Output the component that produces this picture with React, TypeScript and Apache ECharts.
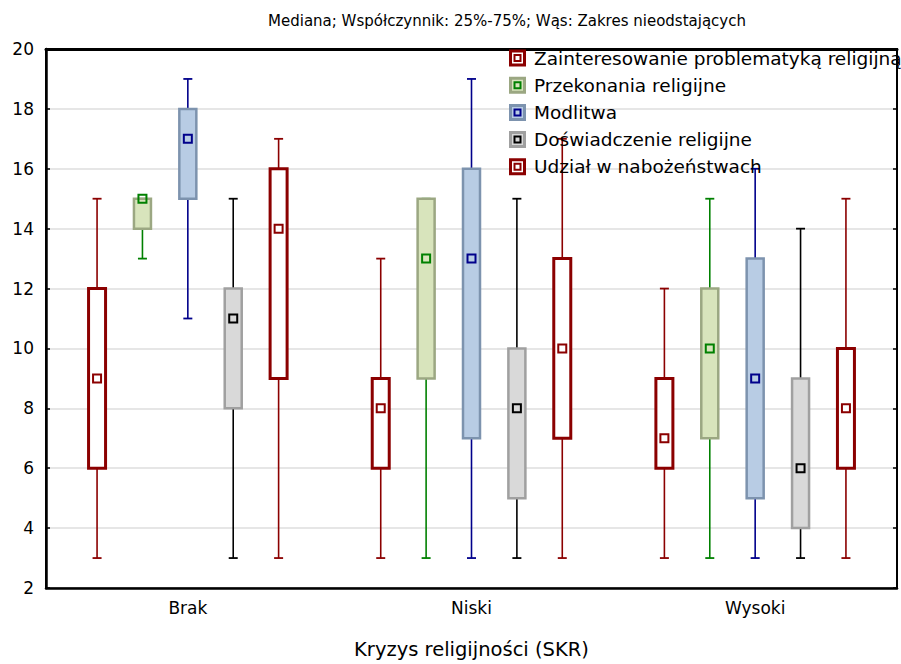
import React, { useEffect, useRef } from "react";
import * as echarts from "echarts";

// ---- data ----
const categories = ["Brak", "Niski", "Wysoki"];
const seriesNames = [
  "Zainteresowanie problematyką religijną",
  "Przekonania religijne",
  "Modlitwa",
  "Doświadczenie religijne",
  "Udział w nabożeństwach",
];
// [min whisker, q1, median, q3, max whisker] per category
const zainteresowanie = [
  [3, 6, 9, 12, 15],
  [3, 6, 8, 9, 13],
  [3, 6, 7, 9, 12],
];
const przekonania = [
  [13, 14, 15, 15, 15],
  [3, 9, 13, 15, 15],
  [3, 7, 10, 12, 15],
];
const modlitwa = [
  [11, 15, 17, 18, 19],
  [3, 7, 13, 16, 19],
  [3, 5, 9, 13, 16],
];
const doswiadczenie = [
  [3, 8, 11, 12, 15],
  [3, 5, 8, 10, 15],
  [3, 4, 6, 9, 14],
];
const udzial = [
  [3, 9, 14, 16, 17],
  [3, 7, 10, 13, 17],
  [3, 6, 8, 10, 15],
];
const allSeries = [zainteresowanie, przekonania, modlitwa, doswiadczenie, udzial];

const titleText = "Mediana; Współczynnik: 25%-75%; Wąs: Zakres nieodstających";
const xAxisName = "Kryzys religijności (SKR)";
const yTicks = { min: 2, max: 20, interval: 2 };

// ---- styles ----
const styles = [
  { boxFill: "#ffffff", boxStroke: "#8b0000", boxWidth: 3, whisker: "#8b0000", marker: "#8b0000" },
  { boxFill: "#d8e4bc", boxStroke: "#9ba782", boxWidth: 2.5, whisker: "#008000", marker: "#008000" },
  { boxFill: "#b8cce4", boxStroke: "#7d93ae", boxWidth: 2.5, whisker: "#00008b", marker: "#00008b" },
  { boxFill: "#d9d9d9", boxStroke: "#a0a0a0", boxWidth: 2.5, whisker: "#000000", marker: "#000000" },
  { boxFill: "#ffffff", boxStroke: "#8b0000", boxWidth: 3, whisker: "#8b0000", marker: "#8b0000" },
];

const FONT = "DejaVu Sans";

export default function App() {
  const ref = useRef<HTMLDivElement>(null);

  useEffect(() => {
    if (!ref.current) return;
    const chart = echarts.init(ref.current, null, { renderer: "svg" });

    const series = allSeries.map((arr, si) => ({
      type: "custom",
      name: seriesNames[si],
      data: arr.map((d, ci) => [ci, ...d]),
      encode: { x: 0, y: [1, 2, 3, 4, 5] },
      renderItem: (params: any, api: any) => {
        const ci = api.value(0);
        const pLow = api.coord([ci, api.value(1)]);
        const pQ1 = api.coord([ci, api.value(2)]);
        const pMed = api.coord([ci, api.value(3)]);
        const pQ3 = api.coord([ci, api.value(4)]);
        const pHigh = api.coord([ci, api.value(5)]);
        const band = api.size([1, 0])[0];
        const cx = pLow[0] + (params.seriesIndex - 2) * band * 0.16;
        const st = styles[params.seriesIndex];
        const bw = 17;
        const cap = 9;
        const m = 8;
        const children: any[] = [
          {
            type: "line",
            shape: { x1: cx, y1: pLow[1], x2: cx, y2: pQ1[1] },
            style: { stroke: st.whisker, lineWidth: 1.6 },
          },
          {
            type: "line",
            shape: { x1: cx, y1: pQ3[1], x2: cx, y2: pHigh[1] },
            style: { stroke: st.whisker, lineWidth: 1.6 },
          },
          {
            type: "line",
            shape: { x1: cx - cap / 2, y1: pLow[1], x2: cx + cap / 2, y2: pLow[1] },
            style: { stroke: st.whisker, lineWidth: 1.8 },
          },
          {
            type: "line",
            shape: { x1: cx - cap / 2, y1: pHigh[1], x2: cx + cap / 2, y2: pHigh[1] },
            style: { stroke: st.whisker, lineWidth: 1.8 },
          },
          {
            type: "rect",
            shape: { x: cx - bw / 2, y: pQ3[1], width: bw, height: pQ1[1] - pQ3[1] },
            style: { fill: st.boxFill, stroke: st.boxStroke, lineWidth: st.boxWidth },
          },
          {
            type: "rect",
            shape: { x: cx - m / 2, y: pMed[1] - m / 2, width: m, height: m },
            style: { fill: "none", stroke: st.marker, lineWidth: 2 },
          },
        ];
        return { type: "group", children };
      },
    }));

    // legend as graphics
    const legendX = 509;
    const legendY0 = 58;
    const legendStep = 27.2;
    const legendGraphics: any[] = [];
    seriesNames.forEach((name, i) => {
      const st = styles[i];
      const cy = legendY0 + i * legendStep;
      legendGraphics.push({
        type: "rect",
        shape: { x: legendX + 1.5, y: cy - 7, width: 14, height: 14 },
        style: { fill: st.boxFill, stroke: st.boxStroke, lineWidth: 3 },
        z: 100,
      });
      legendGraphics.push({
        type: "rect",
        shape: { x: legendX + 5.5, y: cy - 3, width: 6, height: 6 },
        style: { fill: "none", stroke: st.marker, lineWidth: 2 },
        z: 101,
      });
      legendGraphics.push({
        type: "text",
        x: legendX + 25,
        y: cy,
        style: {
          text: name,
          fill: "#000",
          font: `18.5px "${FONT}"`,
          verticalAlign: "middle",
          align: "left",
        },
        z: 101,
      });
    });

    chart.setOption({
      animation: false,
      backgroundColor: "#ffffff",
      grid: {
        left: 46,
        right: 4,
        top: 49,
        bottom: 72,
        show: true,
        borderColor: "#000",
        borderWidth: 2,
      },
      graphic: [
        {
          type: "text",
          x: 507,
          y: 21,
          style: {
            text: titleText,
            fill: "#000",
            font: `15px "${FONT}"`,
            align: "center",
            verticalAlign: "middle",
          },
        },
        ...legendGraphics,
      ],
      xAxis: [
        {
          type: "category",
          data: categories,
          position: "bottom",
          boundaryGap: true,
          axisLine: { lineStyle: { color: "#000", width: 2.5 } },
          axisTick: { alignWithLabel: true, inside: true, length: 4, lineStyle: { color: "#000", width: 1.5 } },
          axisLabel: { color: "#000", fontSize: 17, fontFamily: FONT, margin: 11 },
          splitLine: { show: false },
          name: xAxisName,
          nameLocation: "middle",
          nameGap: 51,
          nameTextStyle: { color: "#000", fontSize: 19.5, fontFamily: FONT },
        },
        {
          type: "category",
          data: categories,
          position: "top",
          axisLine: { lineStyle: { color: "#000", width: 3 } },
          axisTick: { show: false },
          axisLabel: { show: false },
        },
      ],
      yAxis: [
        {
          type: "value",
          min: yTicks.min,
          max: yTicks.max,
          interval: yTicks.interval,
          position: "left",
          axisLine: { show: true, lineStyle: { color: "#000", width: 2.5 } },
          axisTick: { show: true, inside: true, length: 4, lineStyle: { color: "#000", width: 1.5 } },
          axisLabel: { color: "#000", fontSize: 17, fontFamily: FONT, margin: 12 },
          splitLine: { show: true, lineStyle: { color: "#dedede", width: 1.5 } },
        },
        {
          type: "value",
          min: yTicks.min,
          max: yTicks.max,
          interval: yTicks.interval,
          position: "right",
          axisLine: { show: true, lineStyle: { color: "#000", width: 2 } },
          axisTick: { show: true, inside: true, length: 4, lineStyle: { color: "#000", width: 1.5 } },
          axisLabel: { show: false },
          splitLine: { show: false },
        },
      ],
      series,
    });

    return () => chart.dispose();
  }, []);

  return (
    <div
      ref={ref}
      style={{ position: "fixed", left: 0, top: 0, width: 901, height: 664, background: "#fff" }}
    />
  );
}
